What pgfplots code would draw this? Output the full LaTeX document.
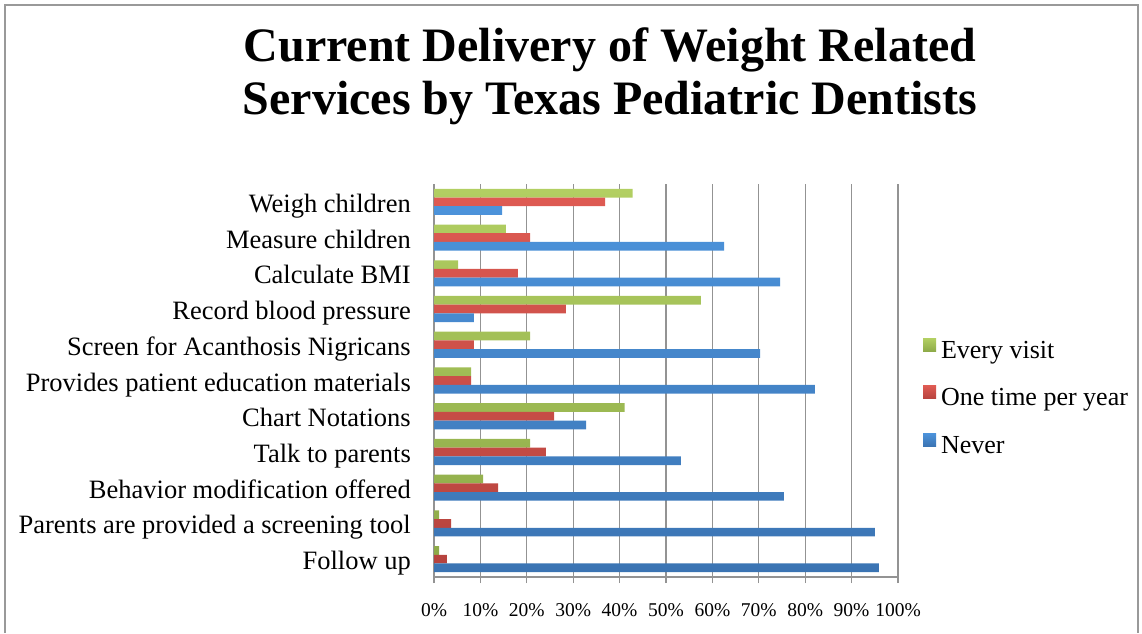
\documentclass[border=0pt]{standalone}
\usepackage{fontspec}
\setmainfont{Liberation Serif}
\usepackage{pgfplots}
\usepackage{pgfplotstable}
\pgfplotsset{compat=1.18}

\definecolor{gTop}{HTML}{B2CF62}
\definecolor{gBot}{HTML}{8DAA48}
\definecolor{rTop}{HTML}{DE5A52}
\definecolor{rBot}{HTML}{B6433E}
\definecolor{bTop}{HTML}{4C93DB}
\definecolor{bBot}{HTML}{3B74B3}
\definecolor{gridc}{HTML}{939393}

\pgfplotstableread{
y    every  once  never
10   42.8   36.9  14.7
9    15.5   20.7  62.5
8    5.2    18.1  74.6
7    57.5   28.4  8.6
6    20.7   8.6   70.3
5    8.0    8.0   82.1
4    41.1   25.9  32.8
3    20.7   24.1  53.2
2    10.6   13.8  75.4
1    1.1    3.7   95.0
0    1.1    2.8   95.9
}\datatable

\begin{document}
\begin{tikzpicture}
\useasboundingbox (0pt,0pt) rectangle (1142pt,633pt);
\draw[line width=1.2pt, color=black!40] (5pt,0pt) -- (5pt,628pt) -- (1138pt,628pt) -- (1138pt,0pt);
\node[anchor=base, font=\fontsize{48}{55}\selectfont\bfseries, inner sep=0pt] at (610pt,571pt) {Current Delivery of Weight Related};
\node[anchor=base, font=\fontsize{48}{55}\selectfont\bfseries, inner sep=0pt] at (610pt,518pt) {Services by Texas Pediatric Dentists};
\begin{axis}[
  at={(434pt,56pt)}, anchor=south west,
  scale only axis, width=464pt, height=393pt,
  xbar, bar width=8.7pt,
  xmin=0, xmax=100, ymin=-0.5, ymax=10.5,
  axis lines*=left,
  axis line style={color=gridc, line width=1.3pt},
  xtick={0,10,...,100},
  xticklabels={0\%,10\%,20\%,30\%,40\%,50\%,60\%,70\%,80\%,90\%,100\%},
  ytick={0,...,10},
  yticklabels={Follow up,Parents are provided a screening tool,Behavior modification offered,Talk to parents,Chart Notations,Provides patient education materials,Screen for Acanthosis Nigricans,Record blood pressure,Calculate BMI,Measure children,Weigh children},
  minor ytick={-0.5,0.5,...,10.5},
  tick align=outside,
  major tick length=6pt,
  minor tick length=6pt,
  ytick style={draw=none},
  minor tick style={draw=gridc, line width=1.3pt},
  xtick style={draw=gridc, line width=1.3pt},
  xmajorgrids,
  major grid style={color=gridc, line width=1.3pt},
  yticklabel style={font=\fontsize{26.5}{30}\selectfont, anchor=base east, inner sep=0pt, xshift=-17pt, yshift=-10.5pt},
  xticklabel style={font=\fontsize{19.5}{22}\selectfont, anchor=base, inner sep=0pt, yshift=-33pt},
  clip=false,
  legend cell align=left,
  legend style={at={(axis description cs:1.047,0.458)}, anchor=west, draw=none, fill=none,
    font=\fontsize{26}{30}\selectfont, row sep=25pt, column sep=4pt,
    nodes={inner sep=1pt}},
  legend image code/.code={\fill[#1,draw=none] (0pt,-1pt) rectangle (13pt,12pt);},
]
\addplot[draw=none, top color=gTop, bottom color=gBot, bar shift=8.7pt] table[x=every, y=y] {\datatable};
\addlegendentry{Every visit}
\addplot[draw=none, top color=rTop, bottom color=rBot, bar shift=0pt] table[x=once, y=y] {\datatable};
\addlegendentry{One time per year}
\addplot[draw=none, top color=bTop, bottom color=bBot, bar shift=-8.7pt] table[x=never, y=y] {\datatable};
\addlegendentry{Never}
\end{axis}
\end{tikzpicture}
\end{document}
